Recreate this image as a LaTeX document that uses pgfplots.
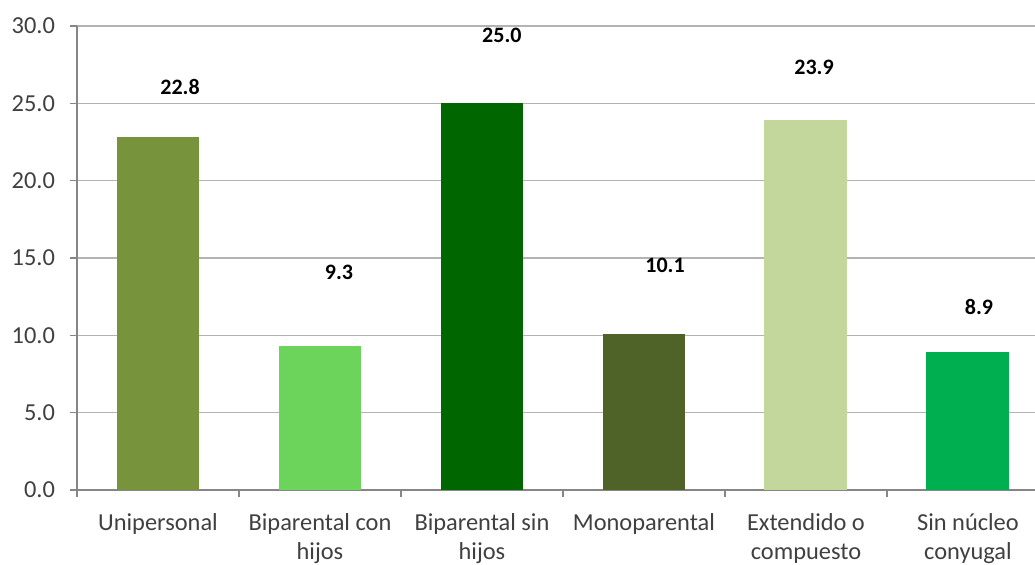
\documentclass[border=0pt]{standalone}
\usepackage{pgfplots}
\pgfplotsset{compat=1.18}
\usepackage{fontspec}
\setmainfont{Carlito}

\definecolor{cUni}{HTML}{77933C}
\definecolor{cBcon}{HTML}{6CD45A}
\definecolor{cBsin}{HTML}{006600}
\definecolor{cMono}{HTML}{4F6228}
\definecolor{cExt}{HTML}{C3D69B}
\definecolor{cSin}{HTML}{00B050}
\definecolor{gridc}{HTML}{B3B3B3}
\definecolor{axc}{HTML}{868686}
\definecolor{txt}{HTML}{404040}

\begin{document}
\begin{tikzpicture}
  \begin{axis}[
      name=ax,
      scale only axis,
      width=479pt, height=232pt,
      ybar, bar width=0.512, bar shift=0pt,
      xmin=-0.5, xmax=5.414,
      ymin=0, ymax=30,
      ytick={0,5,...,30},
      yticklabel style={/pgf/number format/fixed,/pgf/number format/fixed zerofill,/pgf/number format/precision=1,/pgf/number format/assume math mode=true},
      yticklabel style={font=\fontsize{12.2}{13}\selectfont, text=txt, xshift=-4pt},
      % category boundaries carry the tick marks
      xtick={-0.5,0.5,...,4.5},
      xticklabels={},
      x tick style={draw=axc, line width=0.6pt},
      % category names sit at the bar centres, without marks
      extra x ticks={0,...,5},
      extra x tick labels={Unipersonal,{Biparental con\\hijos},{Biparental sin\\hijos},Monoparental,{Extendido o\\compuesto},{Sin núcleo\\conyugal}},
      extra x tick style={major tick length=0pt, grid=none,
        xticklabel style={font=\fontsize{12.2}{14.5}\selectfont, text=txt, align=center, yshift=-8pt}},
      y tick style={draw=axc, line width=0.6pt},
      major tick length=3.5pt,
      tick align=outside,
      ymajorgrids,
      grid style={gridc, line width=0.8pt},
      axis x line*=bottom,
      axis y line*=left,
      axis line style={axc, line width=0.6pt, -},
      clip=false,
    ]
    \addplot[fill=cUni,  draw=none] coordinates {(0,22.8)};
    \addplot[fill=cBcon, draw=none] coordinates {(1,9.3)};
    \addplot[fill=cBsin, draw=none] coordinates {(2,25.0)};
    \addplot[fill=cMono, draw=none] coordinates {(3,10.1)};
    \addplot[fill=cExt,  draw=none] coordinates {(4,23.9)};
    \addplot[fill=cSin,  draw=none] coordinates {(5,8.9)};
    % value labels, placed where the original has them
    \node[font=\bfseries\fontsize{11}{12}\selectfont] at (axis cs:0.136,26.05) {22.8};
    \node[font=\bfseries\fontsize{11}{12}\selectfont] at (axis cs:1.117,14.09) {9.3};
    \node[font=\bfseries\fontsize{11}{12}\selectfont] at (axis cs:2.123,29.41) {25.0};
    \node[font=\bfseries\fontsize{11}{12}\selectfont] at (axis cs:3.130,14.54) {10.1};
    \node[font=\bfseries\fontsize{11}{12}\selectfont] at (axis cs:4.050,27.34) {23.9};
    \node[font=\bfseries\fontsize{11}{12}\selectfont] at (axis cs:5.068,11.83) {8.9};
  \end{axis}
  \pgfresetboundingbox
  \useasboundingbox ([shift={(-38.5pt,-37pt)}]ax.south west) rectangle ([shift={(0pt,13pt)}]ax.north east);
\end{tikzpicture}
\end{document}
